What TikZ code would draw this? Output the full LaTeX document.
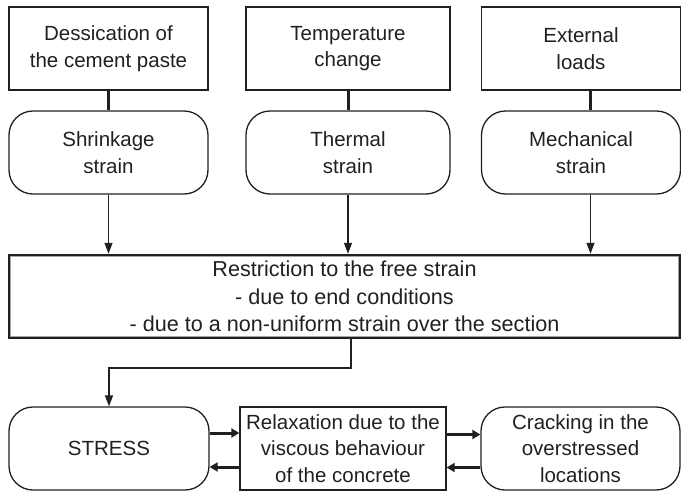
\documentclass[tikz,border=0pt]{standalone}
\usepackage{fontspec}
\setmainfont{Liberation Sans}
\usetikzlibrary{arrows.meta,calc}
\definecolor{ink}{RGB}{35,31,32}
\begin{document}
\begin{tikzpicture}[x=1pt,y=-1pt,
 base/.style={draw=ink, line width=1.3pt, align=center, inner sep=0pt, font=\fontsize{20.5}{26.5}\selectfont, text=ink},
 causebox/.style={base, minimum width=199pt, minimum height=83pt},
 strainbox/.style={base, rounded corners=24pt, minimum width=199pt, minimum height=83pt},
 thickln/.style={line width=3pt, draw=ink},
 downarr/.style={draw=ink, line width=1.4pt, -{Triangle[length=11pt,width=8pt]}},
 sidearr/.style={draw=ink, line width=3pt, -{Triangle[length=8pt,width=9pt]}},
]
\useasboundingbox (0,0) rectangle (681,493);
% causes
\node[causebox] (c1) at (108.5,48.5) {Dessication of\\the cement paste};
\node[causebox, minimum width=204pt] (c2) at (348,48.5) {Temperature\\change};
\node[causebox] (c3) at (581,48.5) {External\\loads};
% strains
\node[strainbox] (s1) at (108.5,152.5) {Shrinkage\\strain};
\node[strainbox, minimum width=204pt] (s2) at (348,152.5) {Thermal\\strain};
\node[strainbox] (s3) at (581,152.5) {Mechanical\\strain};
% restriction
\node[base, line width=2.5pt, minimum width=671pt, minimum height=83pt, font=\fontsize{21.6}{27.5}\selectfont] (r) at (344.5,296.5)
  {Restriction to the free strain\\- due to end conditions\\- due to a non-uniform strain over the section};
\draw[gray!70, line width=0.7pt] ([xshift=2.6pt,yshift=-2.6pt]r.north west) rectangle ([xshift=-2.6pt,yshift=2.6pt]r.south east);
% bottom row
\node[strainbox, minimum width=200pt] (st) at (109,448.5) {STRESS};
\node[causebox, minimum width=206pt] (rx) at (343,448.5) {Relaxation due to the\\viscous behaviour\\of the concrete};
\node[strainbox] (cr) at (580.5,448.5) {Cracking in the\\overstressed\\locations};
% connectors top
\draw[thickln] (c1.south) -- (s1.north);
\draw[thickln] (c2.south) -- (s2.north);
\coordinate (k3a) at ([xshift=9.5pt]c3.south);
\coordinate (k3b) at ([xshift=9.5pt]s3.north);
\coordinate (k3c) at ([xshift=9.5pt]s3.south);
\draw[thickln] (k3a) -- (k3b);
\draw[downarr] (s1.south) -- (r.north -| s1.south);
\draw[downarr] (s2.south) -- (r.north -| s2.south);
\draw[downarr] (k3c) -- (r.north -| k3c);
% restriction to stress
\coordinate (rb) at ([xshift=6.5pt]r.south);
\coordinate (turn) at (351,368);
\draw[downarr] (rb) -- (turn) -| (st.north);
% side arrows
\draw[sidearr] ([yshift=15.5pt]st.east) -- ([yshift=15.5pt]rx.west);
\draw[sidearr] ([yshift=-18.5pt]rx.west) -- ([yshift=-18.5pt]st.east);
\draw[sidearr] ([yshift=14pt]rx.east) -- ([yshift=14pt]cr.west);
\draw[sidearr] ([yshift=-19pt]cr.west) -- ([yshift=-19pt]rx.east);
\end{tikzpicture}
\end{document}
